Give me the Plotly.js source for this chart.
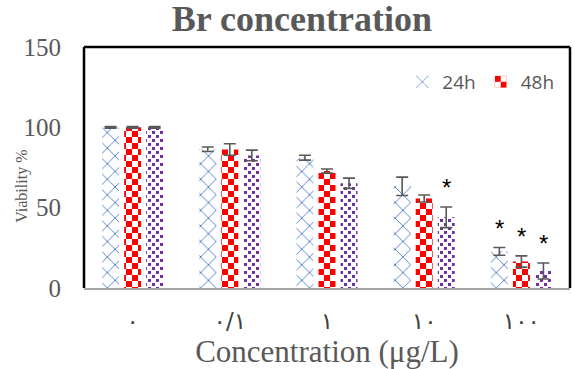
<!DOCTYPE html>
<html>
<head>
<meta charset="utf-8">
<script src="https://cdn.plot.ly/plotly-3.0.1.min.js"></script>
<style>html,body{margin:0;padding:0;background:#fff;}#chart{width:575px;height:369px;}</style>
</head>
<body>
<div id="chart"></div>
<script>
// ---- data ----
var categories = ['٠', '٠/١', '١', '١٠', '١٠٠'];
var series24 = [100, 86.4, 81.1, 63.3, 22.8];
var err24    = [0.5, 1.4, 1.5, 5.7, 2.4];
var series48 = [100, 86.2, 72.8, 55.7, 16.5];
var err48    = [0.5, 3.6, 1.3, 2.2, 3.5];
var series72 = [100, 82.5, 65.2, 44.0, 10.6];
var err72    = [0.5, 3.3, 3.2, 6.4, 5.0];
var sig24 = [0, 0, 0, 0, 1];
var sig48 = [0, 0, 0, 0, 1];
var sig72 = [0, 0, 0, 1, 1];
var seriesNames = ['24h', '48h', '72h'];
var yTitle = 'Viability %';
var xTitle = 'Concentration (μg/L)';
var chartTitle = 'Br concentration';

var BLUE = '#4472C4', RED = '#FF0000', PURPLE = '#7030A0', GREY = '#595959';
var bargap = 0.32;

function errBar(arr) {
  return {type: 'data', array: arr, visible: true, color: GREY, thickness: 1.6, width: 6};
}

var traces = [
  {type: 'bar', name: seriesNames[0], x: categories, y: series24, error_y: errBar(err24),
   marker: {color: BLUE, line: {width: 0},
            pattern: {shape: 'x', fgcolor: BLUE, bgcolor: '#ffffff', size: 11, solidity: 0.15, fillmode: 'replace'}}},
  {type: 'bar', name: seriesNames[1], x: categories, y: series48, error_y: errBar(err48),
   marker: {color: RED, line: {width: 0},
            pattern: {shape: '+', fgcolor: RED, bgcolor: '#ffffff', size: 12, solidity: 0.5, fillmode: 'replace'}}},
  {type: 'bar', name: seriesNames[2], x: categories, y: series72, error_y: errBar(err72), showlegend: false,
   marker: {color: PURPLE, line: {width: 0},
            pattern: {shape: '.', fgcolor: PURPLE, bgcolor: '#ffffff', size: 7, solidity: 0.3, fillmode: 'replace'}}}
];

// significance stars
var annotations = [];
var slot = (1 - bargap) / 3;
[[series24, err24, sig24], [series48, err48, sig48], [series72, err72, sig72]].forEach(function (s, j) {
  s[2].forEach(function (flag, i) {
    if (flag) {
      annotations.push({x: i + (j - 1) * slot, y: s[0][i] + s[1][i] + 12, xref: 'x', yref: 'y',
        text: '*', showarrow: false, yanchor: 'middle',
        font: {family: 'Liberation Sans', size: 24, color: '#000'}});
    }
  });
});
// y-axis title (placed like the original, below the axis centre)
annotations.push({text: yTitle, xref: 'paper', yref: 'paper', x: 0, xshift: -62, y: 0.42,
  xanchor: 'center', yanchor: 'middle', textangle: -90, showarrow: false,
  font: {family: 'Liberation Serif', size: 16, color: GREY}});

var layout = {
  width: 575, height: 369,
  margin: {l: 84, r: 5, t: 47, b: 81},
  paper_bgcolor: '#fff', plot_bgcolor: '#fff',
  title: {text: '<b>' + chartTitle + '</b>', x: 0.525, xanchor: 'center', y: 0.95, yanchor: 'middle',
          font: {family: 'Liberation Serif', size: 36, color: GREY}},
  barmode: 'group', bargap: bargap, bargroupgap: 0.23,
  showlegend: true,
  legend: {orientation: 'h', x: 0.655, xanchor: 'left', y: 0.855, yanchor: 'middle',
           font: {family: 'Open Sans', size: 19, color: GREY}, bgcolor: 'rgba(0,0,0,0)', itemwidth: 30},
  xaxis: {type: 'category', showline: true, linecolor: '#A6A6A6', linewidth: 1.5, ticks: '',
          ticklabelstandoff: 12,
          tickfont: {family: 'DejaVu Sans', size: 23, color: '#404040'},
          title: {text: xTitle, standoff: 8, font: {family: 'Liberation Serif', size: 31, color: GREY}},
          showgrid: false, zeroline: false},
  yaxis: {range: [0, 150], tickvals: [0, 50, 100, 150], showgrid: false, zeroline: false, showline: false,
          ticks: '', ticklabelstandoff: 22,
          tickfont: {family: 'Liberation Serif', size: 25, color: GREY}},
  shapes: [
    {type: 'line', xref: 'paper', yref: 'paper', x0: 0, x1: 1, y0: 1, y1: 1, line: {color: '#000', width: 2.5}},
    {type: 'line', xref: 'paper', yref: 'paper', x0: 0, x1: 0, y0: 0, y1: 1, line: {color: '#000', width: 2.5}},
    {type: 'line', xref: 'paper', yref: 'paper', x0: 1, x1: 1, y0: 0, y1: 1, line: {color: '#000', width: 2.5}}
  ],
  annotations: annotations
};

var gd = document.getElementById('chart');

function restylePatterns() {
  var NS = 'http://www.w3.org/2000/svg';
  var pats = gd.querySelectorAll('pattern');
  pats.forEach(function (p) {
    var html = p.innerHTML.toLowerCase();
    var isRed = html.indexOf('rgb(255, 0, 0)') >= 0 || html.indexOf('#ff0000') >= 0;
    var isPurple = html.indexOf('rgb(112, 48, 160)') >= 0 || html.indexOf('#7030a0') >= 0;
    if (!isRed && !isPurple) return;
    while (p.firstChild) p.removeChild(p.firstChild);
    p.removeAttribute('patternTransform');
    var size = isRed ? 12 : 8, sq = isRed ? 6 : 3, col = isRed ? RED : PURPLE;
    p.setAttribute('width', size); p.setAttribute('height', size);
    p.setAttribute('patternUnits', 'userSpaceOnUse');
    var bg = document.createElementNS(NS, 'rect');
    bg.setAttribute('width', size); bg.setAttribute('height', size); bg.setAttribute('fill', '#ffffff');
    p.appendChild(bg);
    [[0, 0], [size / 2, size / 2]].forEach(function (o) {
      var r = document.createElementNS(NS, 'rect');
      r.setAttribute('x', o[0]); r.setAttribute('y', o[1]);
      r.setAttribute('width', sq); r.setAttribute('height', sq); r.setAttribute('fill', col);
      p.appendChild(r);
    });
  });
}

Plotly.newPlot(gd, traces, layout, {displayModeBar: false, staticPlot: true}).then(function () {
  restylePatterns();
  gd.on('plotly_afterplot', restylePatterns);
});
</script>
</body>
</html>
